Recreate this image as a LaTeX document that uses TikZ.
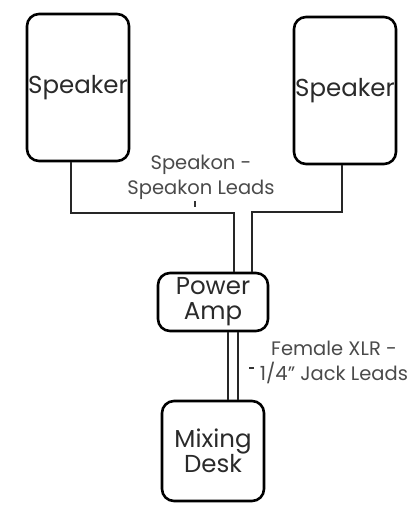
\documentclass[tikz,border=0pt]{standalone}
\usepackage{fontspec}
\setmainfont{Poppins}
\usepackage{tikz}
\usetikzlibrary{calc}
\definecolor{boxtext}{HTML}{2A2A2A}
\definecolor{leadtext}{HTML}{4A4A4A}
\tikzset{
% Two node styles for the rig: the kit boxes and the lead labels
kit box/.style={draw,line width=2.6pt,rounded corners=12pt,align=center,
  text=boxtext,font=\fontsize{24.5}{25}\selectfont,inner sep=0pt},
lead label/.style={align=center,text=leadtext,font=\fontsize{19.5}{25}\selectfont},
lead/.style={line width=2.6pt,draw=black!85}
}
\begin{document}
\begin{tikzpicture}[x=1pt,y=-1pt]
        \useasboundingbox (0,0) rectangle (418,517);
        % The kit
        \node(spkL)[kit box,minimum width=102,minimum height=147] at (78,87.5){Speaker};
        \node(spkR)[kit box,minimum width=102,minimum height=147] at (345,90.5){Speaker};
        \node(amp)[kit box,minimum width=110,minimum height=58] at (213,302){Power\\Amp};
        \node(desk)[kit box,minimum width=102,minimum height=100] at (213,451){Mixing\\Desk};
        % Speakon leads to the amp
        \coordinate(l1) at (71,0);
        \coordinate(l2) at (234,213);
        \coordinate(r1) at (342,0);
        \coordinate(r2) at (252,212);
        \draw[lead](spkL.south -| l1) |- (l2) -- (amp.north -| l2);
        \draw[lead](spkR.south -| r1) |- (r2) -- (amp.north -| r2);
        % Jack leads from the desk
        \coordinate(d1) at (228,0);
        \coordinate(d2) at (238,0);
        \draw[line width=2pt,draw=black!85](amp.south -| d1) -- (desk.north -| d1);
        \draw[line width=2pt,draw=black!85](amp.south -| d2) -- (desk.north -| d2);
        % Labels
        \node(spklabel)[lead label] at (201,177){Speakon -\\Speakon Leads};
        \node(jacklabel)[lead label] at (334,362){Female XLR -\\1/4{\char"22} Jack Leads};
        \coordinate(t1) at (195,201);
        \coordinate(t2) at (249,368);
        \draw[line width=2pt,draw=black!80](t1) -- ++(0,6);
        \draw[line width=2pt,draw=black!80](t2) -- ++(5,0);
      \end{tikzpicture}
\end{document}
